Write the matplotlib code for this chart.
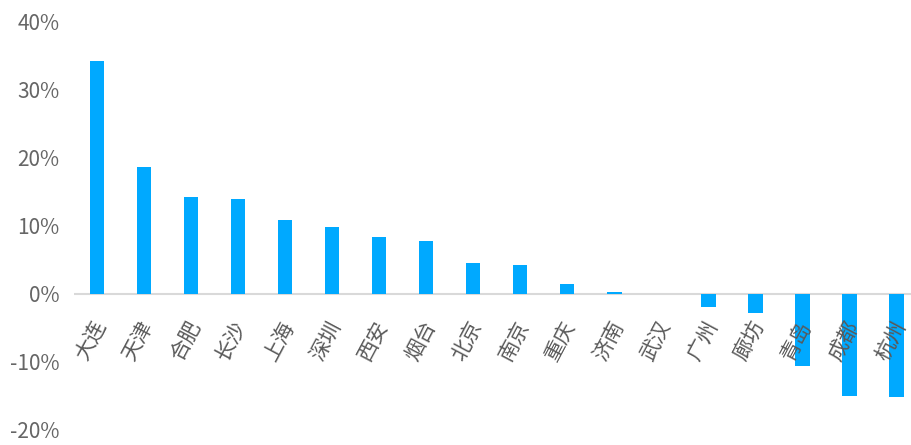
import matplotlib
matplotlib.use('Agg')
import matplotlib.pyplot as plt
from matplotlib.ticker import FuncFormatter

plt.rcParams['font.family'] = ['Liberation Sans Narrow', 'Noto Sans CJK SC', 'DejaVu Sans']

cities = ['大连', '天津', '合肥', '长沙', '上海', '深圳', '西安', '烟台', '北京',
          '南京', '重庆', '济南', '武汉', '广州', '廊坊', '青岛', '成都', '杭州']
changes = [34.3, 18.7, 14.2, 14.0, 10.9, 9.9, 8.4, 7.8, 4.5,
           4.2, 1.5, 0.2, 0.0, -1.9, -2.8, -10.6, -15.0, -15.2]

fig = plt.figure(figsize=(9.12, 4.45), dpi=100)
ax = fig.add_axes([0.0806, 0.034, 0.928, 0.917])

x = list(range(len(cities)))
ax.bar(x, changes, width=0.31, color='#00a9ff', zorder=3)
ax.axhline(0, color='#d9d9d9', lw=1.5, zorder=2)

ax.set_xlim(-0.5, 17.5)
ax.set_ylim(-20, 40)
ax.set_yticks(range(-20, 41, 10))
ax.yaxis.set_major_formatter(FuncFormatter(lambda v, p: '%d%%' % v))
ax.tick_params(axis='y', length=0, labelsize=15, labelcolor='#666666', pad=10)
ax.set_xticks([])
for s in ax.spines.values():
    s.set_visible(False)

# category labels hang just below the zero line
for i, name in enumerate(cities):
    ax.text(i - 0.12, -3.4, name, rotation=62, ha='right', va='top',
            rotation_mode='anchor', fontsize=15, color='#595959',
            fontweight='light', family=['Noto Sans CJK SC', 'DejaVu Sans'])

plt.savefig('out.png', dpi=100)
